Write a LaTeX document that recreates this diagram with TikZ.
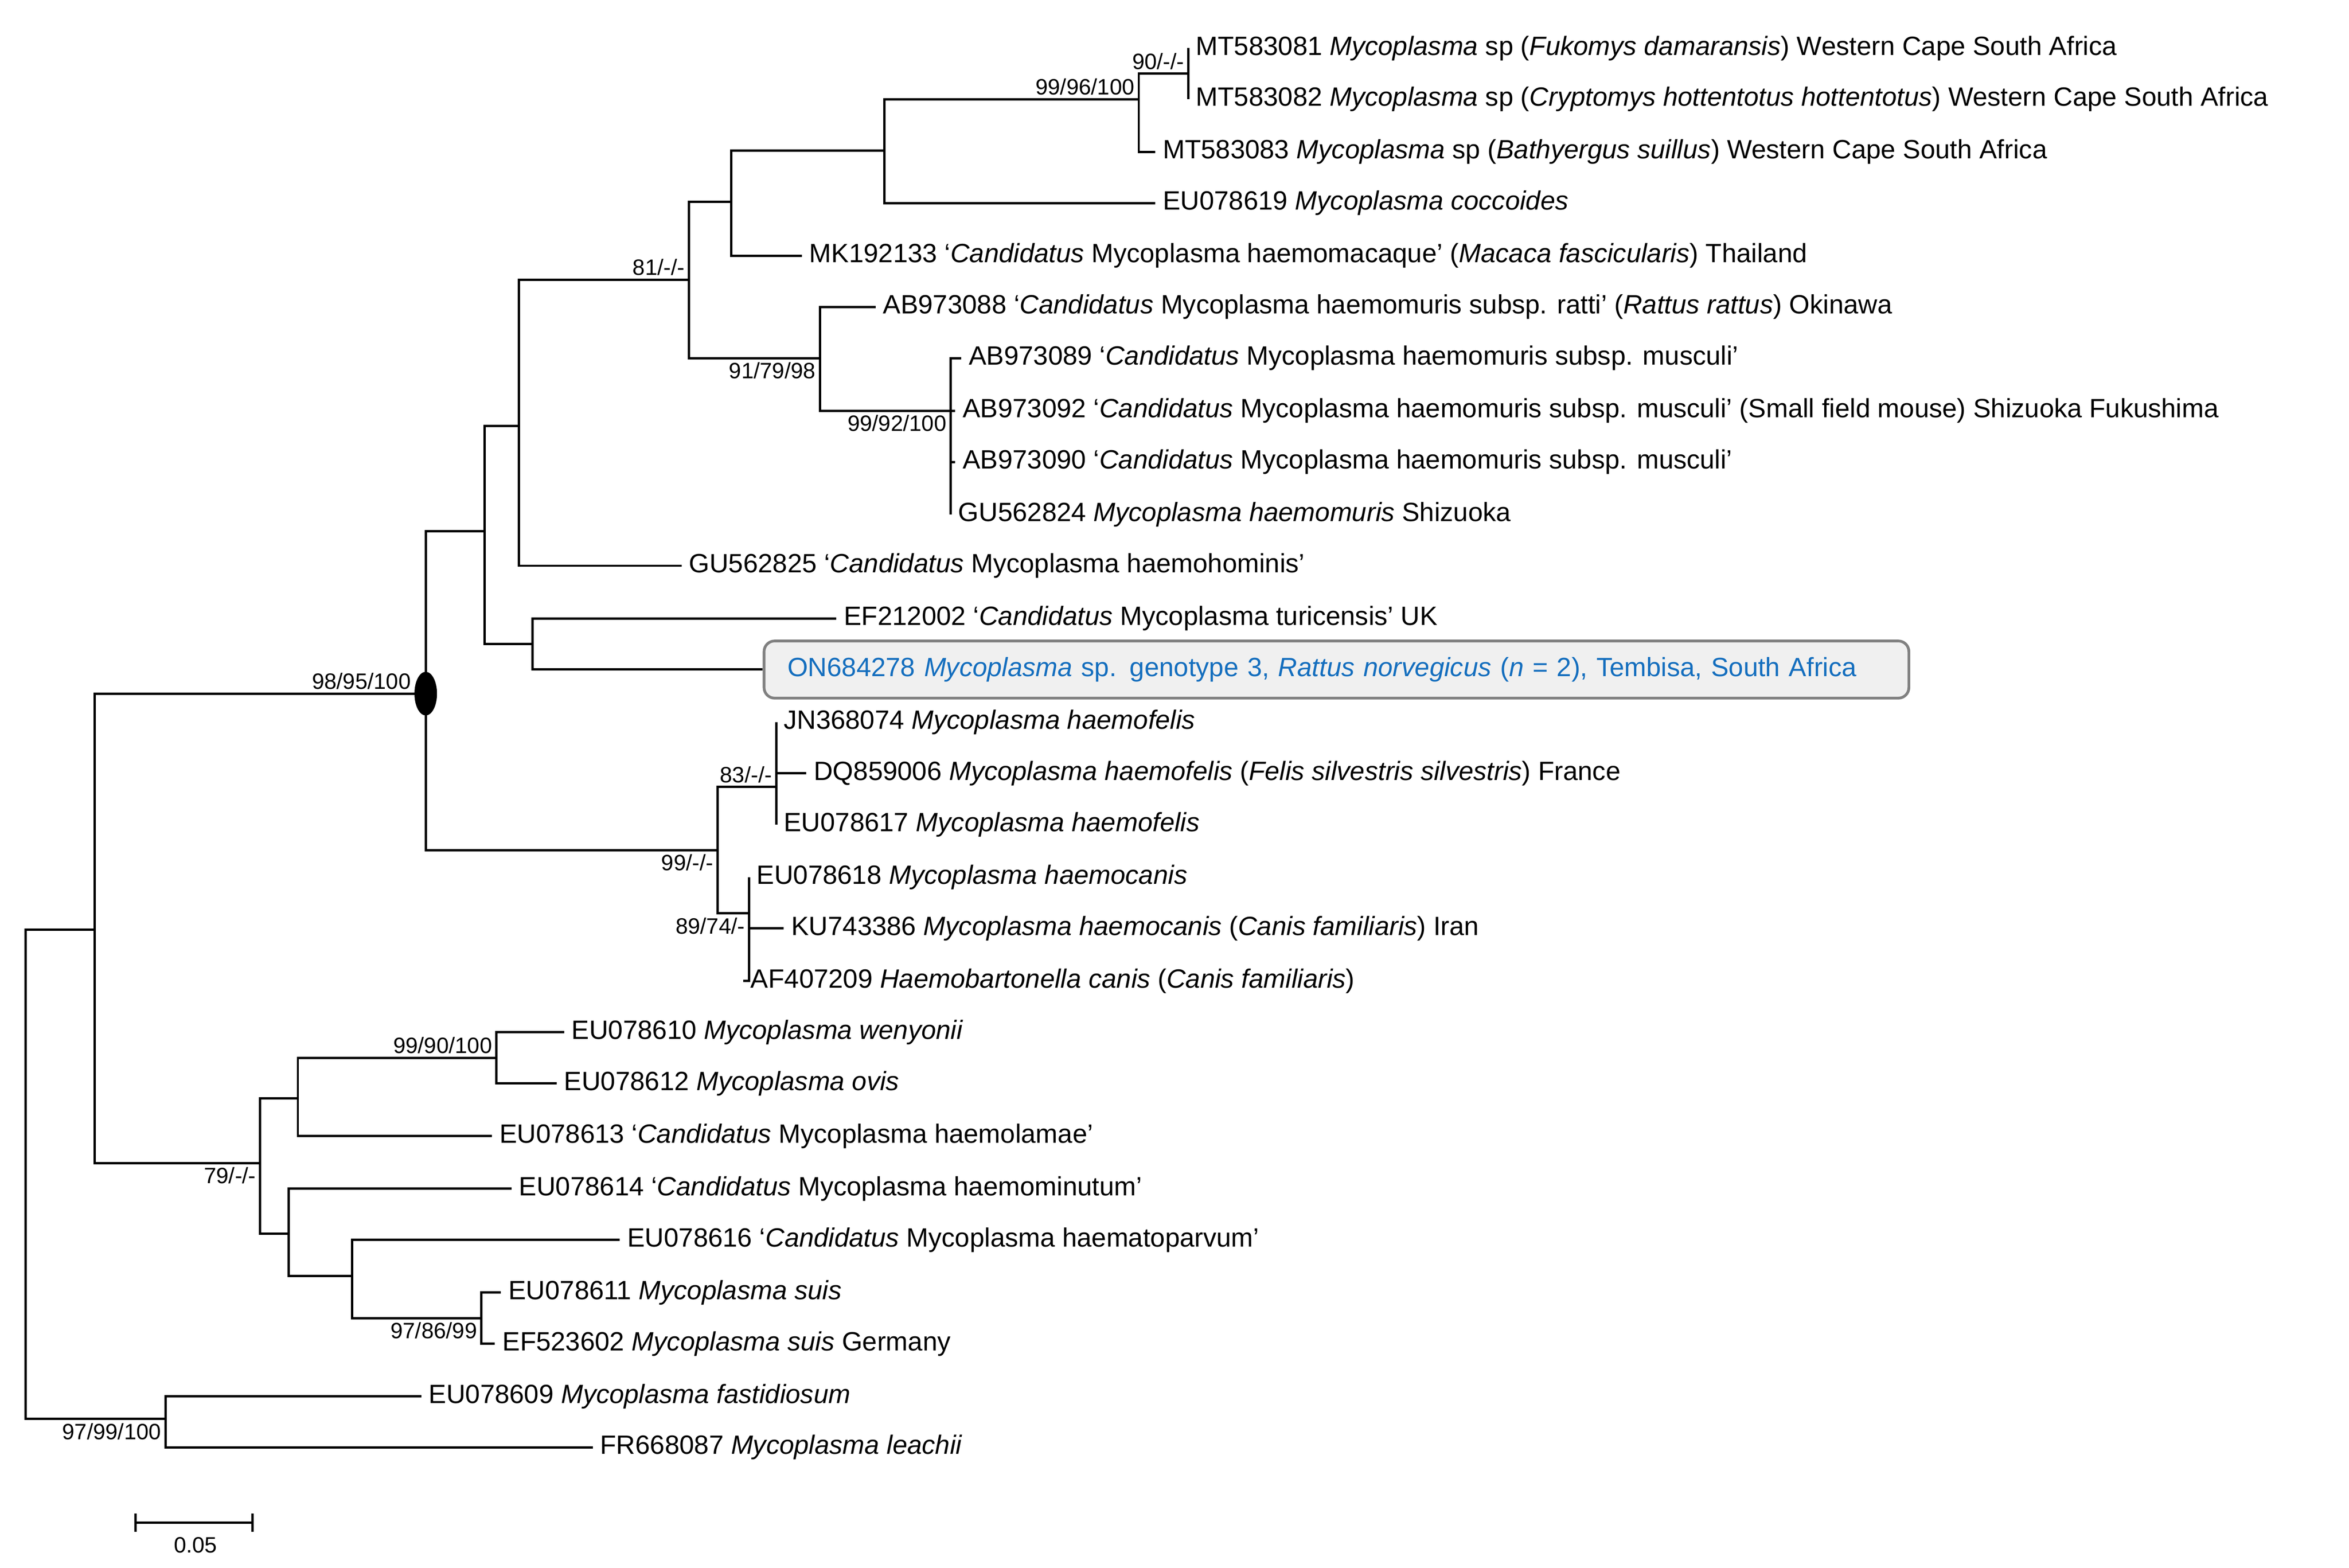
\documentclass[tikz,border=0pt]{standalone}
\usepackage{fontspec}
\setmainfont{Liberation Sans}
\usetikzlibrary{shapes.geometric}
\begin{document}
\begin{tikzpicture}[x=0.025cm,y=-0.025cm,line width=1.1pt,
 leaf/.style={anchor=west,inner xsep=3pt,inner ysep=1pt,font=\fontsize{12.5}{14}\selectfont},
 bsa/.style={anchor=south east,inner sep=1.5pt,font=\fontsize{10.5}{12}\selectfont},
 bsb/.style={anchor=north east,inner sep=1.5pt,font=\fontsize{10.5}{12}\selectfont}]
\useasboundingbox (0,0) rectangle (1561.5,1042);
% internal nodes (x, branch y)
\coordinate (root) at (17,780);
\coordinate (A) at (63,618);
\coordinate (Z) at (110,943);
\coordinate (B) at (283,461);
\coordinate (C) at (322,353);
\coordinate (D) at (345,283);
\coordinate (E) at (458,186);
\coordinate (F) at (486,134);
\coordinate (G) at (588,100);
\coordinate (H) at (757,66);
\coordinate (I) at (790,49);
\coordinate (J) at (545,238);
\coordinate (K) at (632,273);
\coordinate (L) at (354,428);
\coordinate (M) at (477,565);
\coordinate (N) at (516,523);
\coordinate (O) at (498,607);
\coordinate (P) at (173,773);
\coordinate (Q) at (198,730);
\coordinate (R) at (330,703);
\coordinate (S) at (192,820);
\coordinate (T) at (234,848);
\coordinate (U) at (320,876);
% leaves
\node[leaf] (l1) at (790,32) {MT583081 \textit{Mycoplasma} sp (\textit{Fukomys damaransis}) Western Cape South Africa};
\node[leaf] (l2) at (790,66) {MT583082 \textit{Mycoplasma} sp (\textit{Cryptomys hottentotus hottentotus}) Western Cape South Africa};
\node[leaf] (l3) at (768,101) {MT583083 \textit{Mycoplasma} sp (\textit{Bathyergus suillus}) Western Cape South Africa};
\node[leaf] (l4) at (768,135) {EU078619 \textit{Mycoplasma coccoides}};
\node[leaf] (l5) at (533,170) {MK192133 ‘\textit{Candidatus} Mycoplasma haemomacaque’ (\textit{Macaca fascicularis}) Thailand};
\node[leaf] (l6) at (582,204) {AB973088 ‘\textit{Candidatus} Mycoplasma haemomuris subsp. ratti’ (\textit{Rattus rattus}) Okinawa};
\node[leaf] (l7) at (639,238) {AB973089 ‘\textit{Candidatus} Mycoplasma haemomuris subsp. musculi’};
\node[leaf] (l8) at (635,273) {AB973092 ‘\textit{Candidatus} Mycoplasma haemomuris subsp. musculi’ (Small field mouse) Shizuoka Fukushima};
\node[leaf] (l9) at (635,307) {AB973090 ‘\textit{Candidatus} Mycoplasma haemomuris subsp. musculi’};
\node[leaf] (l10) at (632,342) {GU562824 \textit{Mycoplasma haemomuris} Shizuoka};
\node[leaf] (l11) at (453,376) {GU562825 ‘\textit{Candidatus} Mycoplasma haemohominis’};
\node[leaf] (l12) at (556,411) {EF212002 ‘\textit{Candidatus} Mycoplasma turicensis’ UK};
\node[draw=gray,line width=1.3pt,fill=gray!12,rounded corners=5pt,anchor=west,minimum width=761*0.025cm,minimum height=38*0.025cm,inner xsep=6pt,align=left,text width=730*0.025cm,font=\fontsize{12.5}{14}\selectfont,text={rgb,255:red,20;green,110;blue,190}] (l13) at (507,445) {ON684278 \textit{Mycoplasma} sp. genotype 3, \textit{Rattus norvegicus} (\textit{n} = 2), Tembisa, South Africa};
\node[leaf] (l14) at (516,480) {JN368074 \textit{Mycoplasma haemofelis}};
\node[leaf] (l15) at (536,514) {DQ859006 \textit{Mycoplasma haemofelis} (\textit{Felis silvestris silvestris}) France};
\node[leaf] (l16) at (516,548) {EU078617 \textit{Mycoplasma haemofelis}};
\node[leaf] (l17) at (498,583) {EU078618 \textit{Mycoplasma haemocanis}};
\node[leaf] (l18) at (521,617) {KU743386 \textit{Mycoplasma haemocanis} (\textit{Canis familiaris}) Iran};
\node[leaf] (l19) at (494,652) {AF407209 \textit{Haemobartonella canis} (\textit{Canis familiaris})};
\node[leaf] (l20) at (375,686) {EU078610 \textit{Mycoplasma wenyonii}};
\node[leaf] (l21) at (370,720) {EU078612 \textit{Mycoplasma ovis}};
\node[leaf] (l22) at (327,755) {EU078613 ‘\textit{Candidatus} Mycoplasma haemolamae’};
\node[leaf] (l23) at (340,790) {EU078614 ‘\textit{Candidatus} Mycoplasma haemominutum’};
\node[leaf] (l24) at (412,824) {EU078616 ‘\textit{Candidatus} Mycoplasma haematoparvum’};
\node[leaf] (l25) at (333,859) {EU078611 \textit{Mycoplasma suis}};
\node[leaf] (l26) at (329,893) {EF523602 \textit{Mycoplasma suis} Germany};
\node[leaf] (l27) at (280,928) {EU078609 \textit{Mycoplasma fastidiosum}};
\node[leaf] (l28) at (394,962) {FR668087 \textit{Mycoplasma leachii}};
% branches
\draw (root) |- (A); \draw (root) |- (Z);
\draw (Z) |- (l27.west); \draw (Z) |- (l28.west);
\draw (A) |- (B); \draw (A) |- (P);
\draw (B) |- (C); \draw (B) |- (M);
\draw (C) |- (D); \draw (C) |- (L);
\draw (D) |- (E); \draw (D) |- (l11.west);
\draw (E) |- (F); \draw (E) |- (J);
\draw (F) |- (G); \draw (F) |- (l5.west);
\draw (G) |- (H); \draw (G) |- (l4.west);
\draw (H) |- (I); \draw (H) |- (l3.west);
\draw (I) |- (l1.west); \draw (I) |- (l2.west);
\draw (J) |- (l6.west); \draw (J) |- (K);
\draw (K) |- (l7.west); \draw (K) |- (l8.west); \draw (K) |- (l9.west); \draw (K) |- (l10.west);
\draw (L) |- (l12.west); \draw (L) |- (l13.west);
\draw (M) |- (N); \draw (M) |- (O);
\draw (N) |- (l14.west); \draw (N) |- (l15.west); \draw (N) |- (l16.west);
\draw (O) |- (l17.west); \draw (O) |- (l18.west); \draw (O) |- (l19.west);
\draw (P) |- (Q); \draw (P) |- (S);
\draw (Q) |- (R); \draw (Q) |- (l22.west);
\draw (R) |- (l20.west); \draw (R) |- (l21.west);
\draw (S) |- (l23.west); \draw (S) |- (T);
\draw (T) |- (l24.west); \draw (T) |- (U);
\draw (U) |- (l25.west); \draw (U) |- (l26.west);
\node[ellipse,fill=black,minimum width=15*0.025cm,minimum height=29*0.025cm,inner sep=0] (ell) at (B) {};
% support labels
\node[bsa] (s1) at (I) {90/-/-};
\node[bsa] (s2) at (H) {99/96/100};
\node[bsa] (s3) at (E) {81/-/-};
\node[bsb] (s4) at (J) {91/79/98};
\node[bsb] (s5) at (K) {99/92/100};
\node[bsa] (s6) at (276,461) {98/95/100};
\node[bsa] (s7) at (N) {83/-/-};
\node[bsb] (s8) at (M) {99/-/-};
\node[bsb] (s9) at (O) {89/74/-};
\node[bsa] (s10) at (R) {99/90/100};
\node[bsb] (s11) at (P) {79/-/-};
\node[bsb] (s12) at (U) {97/86/99};
\node[bsb] (s13) at (Z) {97/99/100};
% scale bar
\coordinate (sb1) at (90,1012); \coordinate (sb2) at (168,1012);
\draw (sb1) -- (sb2);
\draw ([yshift=-0.15cm]sb1) -- ([yshift=0.15cm]sb1);
\draw ([yshift=-0.15cm]sb2) -- ([yshift=0.15cm]sb2);
\node[font=\fontsize{10.5}{12}\selectfont] (sbl) at (130,1027) {0.05};
\end{tikzpicture}
\end{document}
